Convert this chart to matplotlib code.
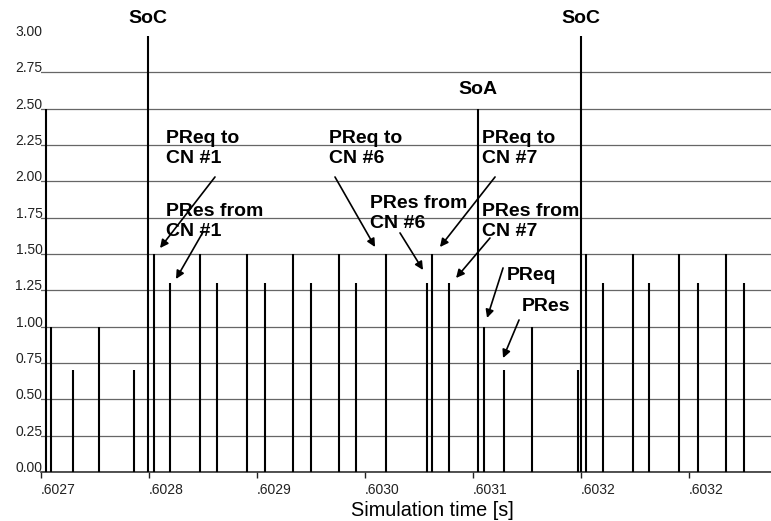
import matplotlib
matplotlib.use("Agg")
import matplotlib.pyplot as plt

plt.rcParams['font.family'] = ['Liberation Sans', 'DejaVu Sans']

# frame send times [s] and marker heights
times = [0.6027044, 0.6027093, 0.6027299, 0.6027540, 0.6027864,
         0.6027994, 0.6028046, 0.6028197, 0.6028472, 0.6028630,
         0.6028905, 0.6029071, 0.6029336, 0.6029497, 0.6029759,
         0.6029917, 0.6030192, 0.6030571, 0.6030620, 0.6030775,
         0.6031049, 0.6031102, 0.6031287, 0.6031549, 0.6031972,
         0.6031997, 0.6032049, 0.6032204, 0.6032481, 0.6032632,
         0.6032907, 0.6033081, 0.6033340, 0.6033507]
heights = [2.5, 1.0, 0.7, 1.0, 0.7,
           3.0, 1.5, 1.3, 1.5, 1.3,
           1.5, 1.3, 1.5, 1.3, 1.5,
           1.3, 1.5, 1.3, 1.5, 1.3,
           2.5, 1.0, 0.7, 1.0, 0.7,
           3.0, 1.5, 1.3, 1.5, 1.3,
           1.5, 1.3, 1.5, 1.3]

x_ticks = [0.6027, 0.6028, 0.6029, 0.6030, 0.6031, 0.6032, 0.6033]
x_tick_labels = ['.6027', '.6028', '.6029', '.6030', '.6031', '.6032', '.6032']
y_ticks = [0.0, 0.25, 0.5, 0.75, 1.0, 1.25, 1.5, 1.75, 2.0, 2.25, 2.5, 2.75, 3.0]
y_tick_labels = ['0.00', '0.25', '0.50', '0.75', '1.00', '1.25', '1.50',
                 '1.75', '2.00', '2.25', '2.50', '2.75', '3.00']

# labels above the start-of-cycle / start-of-async spikes
top_labels = [('SoC', 0.6027994, 3.18), ('SoA', 0.6031049, 2.69), ('SoC', 0.6031997, 3.18)]

# annotation text, text pos (left, top), arrow start, arrow tip
notes = [
    ('PReq to\nCN #1', (0.6028157, 2.355), (0.6028611, 2.030), (0.6028102, 1.541)),
    ('PRes from\nCN #1', (0.6028157, 1.853), (0.6028500, 1.651), (0.6028250, 1.328)),
    ('PReq to\nCN #6', (0.6029667, 2.355), (0.6029722, 2.030), (0.6030093, 1.548)),
    ('PRes from\nCN #6', (0.6030046, 1.908), (0.6030324, 1.645), (0.6030537, 1.390)),
    ('PReq to\nCN #7', (0.6031083, 2.355), (0.6031204, 2.030), (0.6030694, 1.548)),
    ('PRes from\nCN #7', (0.6031083, 1.853), (0.6031157, 1.610), (0.6030843, 1.335)),
    ('PReq', (0.6031315, 1.413), (0.6031278, 1.404), (0.6031130, 1.060)),
    ('PRes', (0.6031454, 1.199), (0.6031426, 1.046), (0.6031278, 0.784)),
]

fig = plt.figure(figsize=(7.71, 5.21), dpi=100)
ax = fig.add_axes([41 / 771, 1 - 472 / 521, 1 - 41 / 771, (472 - 36) / 521])

ax.vlines(times, 0, heights, colors='black', linewidth=1.5, zorder=3)

ax.set_xlim(0.6027, 0.6033759)
ax.set_ylim(0, 3.0)
ax.set_xticks(x_ticks)
ax.set_xticklabels(x_tick_labels, fontsize=10)
ax.set_yticks(y_ticks)
ax.set_yticklabels(y_tick_labels, fontsize=10, color='#222222')
for lab in ax.get_xticklabels():
    lab.set_ha('left')
for lab in ax.get_yticklabels():
    lab.set_va('baseline')

ax.tick_params(axis='x', direction='out', length=4, width=1, pad=4, colors='#222222')
ax.tick_params(axis='y', length=0, pad=-1)

ax.yaxis.grid(True, color='#666666', linewidth=0.9, zorder=0)
ax.yaxis.get_gridlines()[-1].set_visible(False)
ax.set_axisbelow(True)

for side in ['top', 'right', 'left']:
    ax.spines[side].set_visible(False)
ax.spines['bottom'].set_linewidth(1.2)
ax.spines['bottom'].set_color('#333333')

ax.set_xlabel('Simulation time [s]', fontsize=14.3)
ax.xaxis.set_label_coords(0.536, -0.066)

for txt, x, y in top_labels:
    ax.text(x, y, txt, ha='center', va='top', fontsize=14, fontweight='bold')

for txt, pos, start, tip in notes:
    ax.text(pos[0], pos[1], txt, ha='left', va='top', fontsize=14,
            fontweight='bold', linespacing=1.27, zorder=4)
    ax.annotate('', xy=tip, xytext=start,
                arrowprops=dict(arrowstyle='-|>', color='black', lw=1.2,
                                mutation_scale=12, shrinkA=0, shrinkB=0))

fig.savefig('out.png', dpi=100)
